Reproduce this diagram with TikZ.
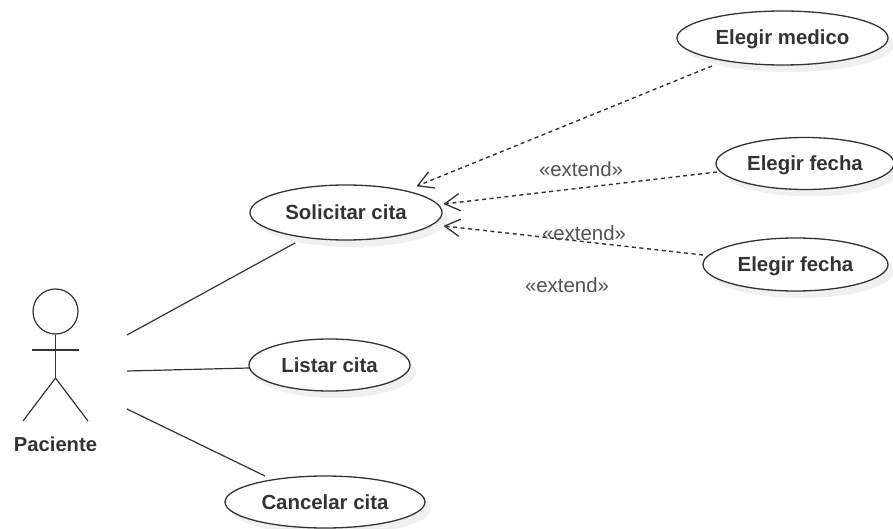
\documentclass[tikz,border=0pt]{standalone}
\usepackage{fontspec}
\setmainfont{Liberation Sans}
\usetikzlibrary{arrows.meta,shapes.geometric,shadows}
\definecolor{ink}{HTML}{333333}
\definecolor{shade}{HTML}{F0F0F0}
\tikzset{
  usecase/.style={ellipse,draw=ink,line width=1.3pt,fill=white,inner sep=0pt,
    font=\fontsize{20.4}{22}\selectfont\bfseries,text=ink,text height=18pt,text depth=4pt,
    preaction={draw=none,fill=shade,transform canvas={shift={(6,7)}}}},
  assoc/.style={draw=ink,line width=1.2pt},
  ext/.style={draw=ink,line width=1.4pt,dash pattern=on 4pt off 3.5pt,
    -{Straight Barb[length=15pt,width=17pt,line width=1.3pt,round]}},
  stereo/.style={font=\fontsize{20.4}{22}\selectfont,text=ink!85!white,inner sep=0pt},
  actorline/.style={draw=ink,line width=1.2pt},
}
\begin{document}
\begin{tikzpicture}[x=1pt,y=-1pt]
\useasboundingbox (0,0) rectangle (893,529);
\node[usecase,minimum width=211pt,minimum height=54pt] (medico) at (782.5,38) {Elegir medico};
\node[usecase,minimum width=178pt,minimum height=52pt] (fecha1) at (805,163.5) {Elegir fecha};
\node[usecase,minimum width=185pt,minimum height=53pt] (fecha2) at (795.5,264.5) {Elegir fecha};
\node[usecase,minimum width=192pt,minimum height=55pt] (solicitar) at (346,212.5) {Solicitar cita};
\node[usecase,minimum width=161pt,minimum height=52pt] (listar) at (329.5,365) {Listar cita};
\node[usecase,minimum width=200pt,minimum height=52pt] (cancelar) at (325,502) {Cancelar cita};
\node[circle,draw=ink,line width=1.2pt,minimum size=45pt,inner sep=0pt] (head) at (55.5,311.5) {};
\coordinate (hip) at (55.5,378);
\coordinate (armL) at (32,350);
\coordinate (armR) at (79,350);
\coordinate (footL) at (23,421);
\coordinate (footR) at (88,421);
\draw[actorline] (head.south) -- (hip);
\draw[actorline] (armL) -- (armR);
\draw[actorline] (footL) -- (hip) -- (footR);
\node[font=\fontsize{20.2}{22}\selectfont\bfseries,text=ink,inner sep=0pt] (paciente) at (55.5,444) {Paciente};
\coordinate (a1) at (127,335);
\coordinate (a2) at (127,371);
\coordinate (a3) at (127,409);
\coordinate (s1) at (295,243);
\coordinate (l1) at (249,368);
\coordinate (c1) at (265,476);
\draw[assoc] (a1) -- (s1);
\draw[assoc] (a2) -- (l1);
\draw[assoc] (a3) -- (c1);
\coordinate (m1) at (712,66);
\coordinate (m2) at (417,186);
\coordinate (f1) at (717,172);
\coordinate (f1e) at (444,204);
\coordinate (f2) at (703,255);
\coordinate (f2e) at (444,226);
\draw[ext] (m1) -- (m2);
\draw[ext] (f1) -- (f1e);
\draw[ext] (f2) -- (f2e);
\node[stereo] (e1) at (581,169) {«extend»};
\node[stereo] (e2) at (584,233) {«extend»};
\node[stereo] (e3) at (567,285) {«extend»};
\end{tikzpicture}
\end{document}
